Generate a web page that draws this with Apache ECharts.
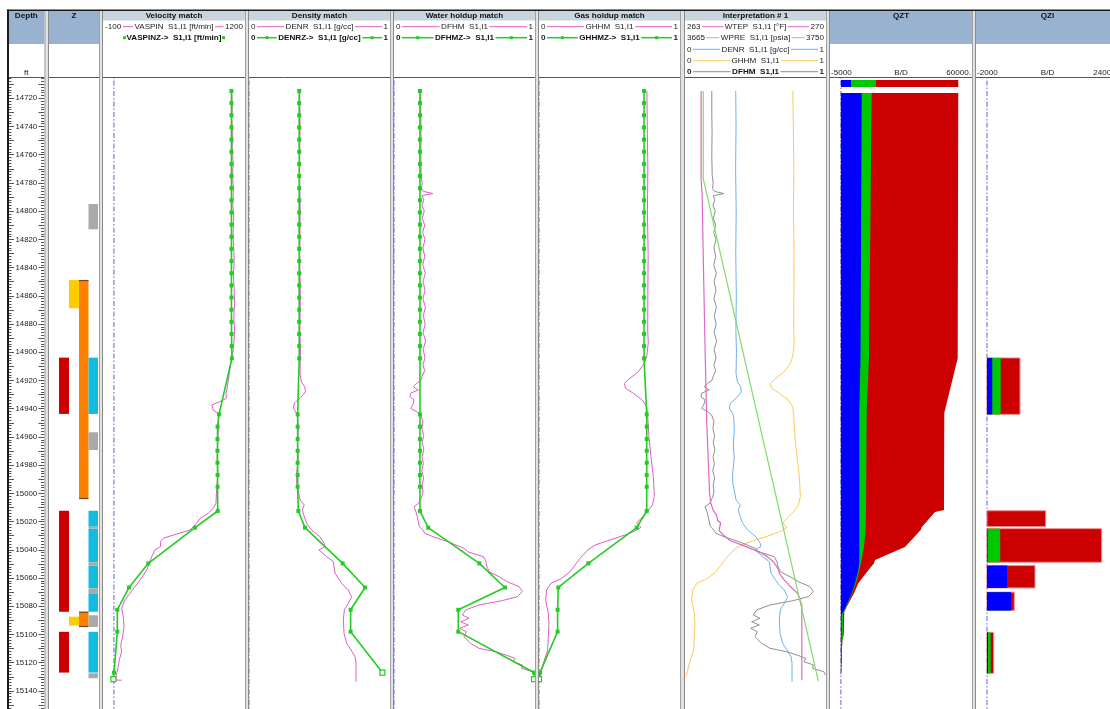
<!DOCTYPE html>
<html>
<head>
<meta charset="utf-8">
<title>PLT match</title>
<script src="https://cdn.jsdelivr.net/npm/echarts/dist/echarts.min.js"></script>
<style>
html,body{margin:0;padding:0;background:#ffffff;overflow:hidden;}
#chart{width:1110px;height:709px;}
</style>
</head>
<body>
<div id="chart"></div>
<script>
// ================= DATA =================
const depthRange = [14700, 15160];

// model stations (shared by the green "Z" curves)
const stationDepth = [14714.8,14723.4,14732.0,14740.6,14749.3,14757.9,14766.5,14775.1,14783.7,14792.3,14800.9,14809.5,14818.1,14826.7,14835.4,14844.0,14852.6,14861.2,14869.8,14878.4,14887.0,14895.6,14904.3,
  14944.0,14952.7,14961.5,14969.8,14978.3,14987.0,14995.3,
  15012.5,15024.3,15049.6,15066.7,15082.5,15098.0,15127.0,15131.7];
const VASPINZ = [1076,1076,1076,1076,1076,1076,1076,1076,1076,1076,1076,1076,1076,1076,1076,1076,1076,1076,1076,1076,1077,1078,1080,
  962,949,948,948,948,949,949, 950,742,315,138,31,31,1,-5];
const DENRZ = [0.356,0.356,0.356,0.356,0.356,0.356,0.356,0.356,0.356,0.356,0.356,0.356,0.356,0.356,0.356,0.356,0.356,0.356,0.356,0.356,0.356,0.356,0.356,
  0.345,0.345,0.345,0.345,0.345,0.345,0.345, 0.350,0.397,0.664,0.823,0.721,0.721,0.946,null];
const DFHMZ = [0.184,0.184,0.184,0.184,0.184,0.184,0.184,0.184,0.184,0.184,0.184,0.184,0.184,0.184,0.184,0.184,0.184,0.184,0.184,0.184,0.184,0.184,0.184,
  0.184,0.184,0.184,0.184,0.184,0.184,0.184, 0.184,0.243,0.605,0.787,0.456,0.456,0.993,0.993];
const GHHMZ = [0.745,0.745,0.745,0.745,0.745,0.745,0.745,0.745,0.745,0.745,0.745,0.745,0.745,0.745,0.745,0.745,0.745,0.745,0.745,0.745,0.745,0.745,0.745,
  0.764,0.764,0.764,0.764,0.764,0.764,0.764, 0.764,0.693,0.350,0.137,0.132,0.132,0.007,0.000];

// measured log curves: [depth, value]
const VASPIN = [[14714.8,1078],[14725,1084],[14735,1079],[14745,1088],[14755,1083],[14765,1091],[14775,1086],[14785,1094],[14795,1088],[14805,1097],[14815,1090],[14825,1096],[14835,1101],[14845,1094],[14855,1100],[14865,1105],[14875,1098],[14885,1104],[14895,1097],[14902,1086],[14908,1069],[14914,1058],[14920,1047],[14926,1035],[14929,1026],[14932.6,1030],[14935,971],[14937.4,895],[14941,910],[14943,947],[14945.7,959],[14955,955],[14965,950],[14975,945],[14985,952],[14997.6,940],[15004,936],[15007,934],[15010.6,910],[15014,864],[15017.7,788],[15021,758],[15026,696],[15028.8,575],[15031.8,452],[15034,428],[15037.8,426],[15040,376],[15044.9,346],[15049.6,324],[15054.3,300],[15060,254],[15066,193],[15070.8,147],[15075.5,101],[15081.4,71],[15087.4,86],[15094.5,92],[15101.6,80],[15107.5,62],[15112.2,71],[15118,49],[15122.8,40],[15127.5,25],[15132.3,16],[15132.4,71]];

const DENR = [[14714.8,0.36],[14740,0.362],[14770,0.359],[14800,0.363],[14830,0.36],[14860,0.364],[14884,0.361],[14900,0.365],[14915,0.362],[14921,0.372],[14924.4,0.395],[14928,0.4],[14930,0.385],[14932.6,0.362],[14936,0.322],[14939.7,0.314],[14943.2,0.338],[14945.6,0.345],[14955,0.35],[14965,0.343],[14975,0.349],[14985.8,0.338],[14992.9,0.338],[14997.6,0.349],[15004.7,0.362],[15008.2,0.392],[15011.8,0.378],[15016.5,0.392],[15021.2,0.409],[15026,0.444],[15030.7,0.503],[15035.4,0.534],[15037.8,0.538],[15040.1,0.496],[15044.9,0.551],[15048.4,0.598],[15056.6,0.61],[15063.7,0.657],[15068.5,0.704],[15073.2,0.728],[15077.9,0.704],[15082.6,0.676],[15089.7,0.669],[15099.2,0.674],[15106.3,0.693],[15111,0.724],[15115.7,0.752],[15120.4,0.759],[15133.5,0.759]];

const DFHM = [[14714.8,0.19],[14730,0.19],[14745,0.192],[14760,0.19],[14775,0.193],[14780,0.2],[14784,0.195],[14786,0.21],[14787.5,0.276],[14789,0.2],[14792,0.212],[14796,0.198],[14800,0.215],[14805,0.2],[14810,0.218],[14815,0.203],[14820,0.22],[14826,0.205],[14832,0.218],[14838,0.204],[14844,0.222],[14850,0.206],[14856,0.22],[14862,0.205],[14868,0.223],[14874,0.208],[14880,0.221],[14886,0.206],[14892,0.224],[14898,0.207],[14904,0.22],[14909,0.205],[14913,0.218],[14917,0.2],[14920,0.19],[14922,0.16],[14924.4,0.137],[14926.7,0.172],[14929,0.118],[14931.5,0.113],[14933.8,0.142],[14937.4,0.133],[14939.7,0.118],[14942.1,0.161],[14944.5,0.189],[14949,0.205],[14954,0.198],[14959,0.21],[14964,0.2],[14969,0.212],[14974,0.199],[14979,0.208],[14984,0.197],[14989,0.21],[14994,0.2],[14999,0.206],[15003,0.195],[15007,0.175],[15009.4,0.142],[15013,0.156],[15016.5,0.165],[15020,0.172],[15023.6,0.18],[15026,0.206],[15028.3,0.218],[15030.7,0.277],[15034.3,0.383],[15036.6,0.44],[15039,0.5],[15041.3,0.52],[15044.9,0.634],[15048.4,0.652],[15052,0.66],[15055.5,0.674],[15059,0.745],[15062.6,0.804],[15066.1,0.887],[15069.6,0.91],[15073.2,0.875],[15076,0.768],[15079.1,0.603],[15082.6,0.508],[15086.2,0.485],[15088.5,0.532],[15091,0.473],[15093.3,0.527],[15095.6,0.466],[15098,0.513],[15101.6,0.496],[15106.3,0.544],[15109.8,0.603],[15112.2,0.721],[15114.5,0.792],[15116.9,0.858],[15119.3,0.844],[15121.6,0.91],[15124,0.905],[15126.4,0.985],[15128.7,0.996]];

const GHHM = [[14714.8,0.765],[14740,0.768],[14770,0.772],[14800,0.769],[14830,0.774],[14860,0.772],[14884.2,0.771],[14893.6,0.775],[14903,0.764],[14907.8,0.747],[14913.8,0.704],[14918.4,0.645],[14922,0.605],[14925.5,0.614],[14929.1,0.669],[14933.8,0.733],[14938.6,0.764],[14945.7,0.771],[14959.8,0.78],[14974,0.794],[14988.2,0.811],[15002.3,0.818],[15008.2,0.804],[15013,0.771],[15017.7,0.723],[15021.2,0.693],[15024,0.723],[15026.7,0.681],[15029.5,0.61],[15033,0.503],[15036.6,0.397],[15040.1,0.345],[15042.5,0.326],[15046,0.29],[15050.8,0.255],[15055.5,0.22],[15060.2,0.161],[15063.7,0.085],[15068.5,0.054],[15075.6,0.047],[15085,0.066],[15092.1,0.071],[15101.6,0.066],[15111,0.061],[15120.4,0.031],[15129.9,0.007]];

const WTEP = [[14714.8,263.8],[14777,263.8],[14788,263.85],[14850,263.93],[14900,264.0],[14950,264.08],[15000,264.22],[15007,264.28],[15012,264.4],[15015.6,264.57],[15019,264.62],[15021,264.77],[15024,264.72],[15026.6,264.7],[15030,264.95],[15033.4,265.23],[15037,265.9],[15041.6,266.7],[15045,267.1],[15048.6,267.4],[15053,267.6],[15057,267.7],[15061,267.9],[15065.6,268.2],[15071,268.6],[15079.4,268.8],[15132.5,268.8]];
const WPRE = [[14714.8,3676],[14777,3676],[15133,3745.4]];

// flow profile QZT (B/D)
const qztDepth = [14716.2,14904.3,14943,15011.8,15013.2,15024,15026,15038,15047.3,15049.6,15054.4,15063.7,15070.8,15080.3,15084,15085.5,15100,15104,15114,15127,15129];
const qztWater = [9510,8960,8410,8410,8410,8410,8410,8410,8410,8410,7950,6440,4930,2190,1090,300,300,200,300,100,0];
const qztOil   = [4580,3890,3390,3070,3070,2930,2930,2150,1010,780,460,460,280,270,320,700,600,500,0,0,0];
const qztGas   = [39630,40600,35510,35700,31580,25630,25170,18770,6180,5950,4120,1050,770,180,130,500,400,0,0,0,0];
const qztSurfaceDepth = [14707.0, 14712.0];
const qztSurfaceRates = [4610, 11440, 37670]; // water, oil, gas

// inflow QZI (B/D)
const qziTop    = [14904.0,15012.3,15025.0,15051.2,15070.0,15098.5];
const qziBottom = [14944.0,15023.5,15048.8,15067.0,15083.0,15127.5];
const qziWater  = [960,0,100,3690,4360,180];
const qziOil    = [1530,0,2300,0,0,490];
const qziGas    = [3510,10670,18450,5040,600,545];

// Z track zones [top, bottom]
const zonePerf   = [[14903.8,14943.7],[15012.3,15083.9],[15098.1,15127.0]];
const zoneYellow = [[14848.8,14868.8],[15087.4,15093.7]];
const zoneOrange = [[14848.8,15004.0],[15083.9,15094.7]];
const zoneCyan   = [[14903.8,14943.7],[15012.3,15023.6],[15025.0,15048.8],[15051.2,15067.3],[15070.8,15083.9],[15098.1,15127.0]];
const zoneGray   = [[14794.9,14812.8],[14956.7,14969.3],[15023.6,15025.0],[15048.8,15051.2],[15067.3,15070.8],[15086.4,15094.7],[15127.5,15131.0]];

// ================= LAYOUT / STYLE =================
const FONT = '"Liberation Sans", Arial, sans-serif';
const FS = 8.1;
const PINK = '#e05cc6', GREEN = '#22cc22';
const C_WTEP = '#e066c8', C_WPRE = '#7fdc6a', C_DENR = '#6fb0f2', C_GHHM = '#ffc75a', C_DFHM = '#8f8f8f';
const GRID_TOP = 70.08, GRID_H = 649.06;

const tracks = [
  {left:8, right:44.5},
  {left:49, right:99},
  {left:103, right:245, title:'Velocity match'},
  {left:249, right:390, title:'Density match'},
  {left:394, right:535, title:'Water holdup match'},
  {left:539, right:680, title:'Gas holdup match'},
  {left:685, right:826, title:'Interpretation # 1'},
  {left:830, right:972, title:'QZT'},
  {left:976, right:1119, title:'QZI'}
];
const xScales = [[0,1],[0,5],[-100,1200],[0,1],[0,1],[0,1],[0,1],[-5000,60000],[-2000,24000]];

const chart = echarts.init(document.getElementById('chart'), null, {renderer:'canvas', width:1110, height:709});

const grids = tracks.map(t => ({left:t.left, top:GRID_TOP, width:t.right - t.left, height:GRID_H, show:false, containLabel:false, outerBoundsMode:'none'}));
const xAxes = tracks.map((t,i) => ({gridIndex:i, type:'value', min:xScales[i][0], max:xScales[i][1], show:false}));
xAxes.push({gridIndex:6, type:'value', min:263, max:270, show:false});   // 9: WTEP
xAxes.push({gridIndex:6, type:'value', min:3665, max:3750, show:false}); // 10: WPRE

const tickCommon = {
  axisLine:{show:false}, splitLine:{show:false},
  axisTick:{show:true, inside:true, length:6, lineStyle:{color:'#555', width:1}},
  minorTick:{show:true, splitNumber:5, length:3.5, lineStyle:{color:'#555', width:1}}
};
const yAxes = tracks.map((t,i) => {
  if (i === 0) {
    return Object.assign({gridIndex:0, type:'value', inverse:true, min:depthRange[0], max:depthRange[1], interval:10, position:'left',
      axisLabel:{show:true, inside:true, margin:18.3, align:'center', verticalAlign:'middle', fontSize:7.8, fontFamily:FONT, color:'#222',
        hideOverlap:false, formatter: v => (Math.round(v) % 20 === 0 ? String(Math.round(v)) : '')}}, tickCommon);
  }
  return {gridIndex:i, type:'value', inverse:true, min:depthRange[0], max:depthRange[1], show:false};
});
yAxes.push(Object.assign({gridIndex:0, type:'value', inverse:true, min:depthRange[0], max:depthRange[1], interval:10, position:'right',
  axisLabel:{show:false}}, tickCommon)); // 9: right ruler

// ---------- series ----------
const series = [];
const zeroStyle = {color:'#5c5ce6', width:1, type:[5,2,1.5,2]};
function zeroLine(ti){
  series.push({type:'line', xAxisIndex:ti, yAxisIndex:ti, data:[[0,depthRange[0]],[0,depthRange[1]]], symbol:'none', lineStyle:zeroStyle, z:1, silent:true, animation:false});
}
function logLine(ti, pairs, color, w, xi){
  series.push({type:'line', xAxisIndex:(xi==null?ti:xi), yAxisIndex:ti, data:pairs.map(p => [p[1], p[0]]), symbol:'none',
    lineStyle:{color:color, width:w}, z:3, silent:true, animation:false});
}
function modelLine(ti, values){
  const pts = [];
  stationDepth.forEach((d,i) => { if (values[i] != null) pts.push([values[i], d]); });
  const data = pts.map((p,i) => i === pts.length - 1 ? {value:p, symbolSize:5, itemStyle:{color:'#ffffff', borderColor:GREEN, borderWidth:1.2}} : p);
  series.push({type:'line', xAxisIndex:ti, yAxisIndex:ti, data:data, symbol:'rect', symbolSize:4, showSymbol:true, showAllSymbol:true,
    itemStyle:{color:GREEN}, lineStyle:{color:GREEN, width:1.6}, z:4, silent:true, animation:false});
}

// Z track zones
const zoneKinds = [
  {zones:zonePerf, col:0, color:'#cc0000'},
  {zones:zoneYellow, col:1, color:'#ffcc00'},
  {zones:zoneOrange, col:2, color:'#ff8000', edge:'#6a4a30'},
  {zones:zoneCyan, col:3, color:'#12bce0'},
  {zones:zoneGray, col:3, color:'#a9a9a9'}
];
const colX = [[1,2],[2,3],[3,3.95],[3.95,4.9]];
const zData = [];
zoneKinds.forEach((k,ki) => k.zones.forEach(z => zData.push([ki, z[0], z[1]])));
series.push({type:'custom', xAxisIndex:1, yAxisIndex:1, data:zData, silent:true, animation:false, z:2,
  renderItem:(params, api) => {
    const k = zoneKinds[api.value(0)];
    const c = colX[k.col];
    const p1 = api.coord([c[0], api.value(1)]);
    const p2 = api.coord([c[1], api.value(2)]);
    const children = [{type:'rect', shape:{x:p1[0], y:p1[1], width:p2[0]-p1[0], height:p2[1]-p1[1]}, style:{fill:k.color}}];
    if (k.edge) {
      children.push({type:'line', shape:{x1:p1[0], y1:p1[1]+0.5, x2:p2[0], y2:p1[1]+0.5}, style:{stroke:k.edge, lineWidth:1.2}});
      children.push({type:'line', shape:{x1:p1[0], y1:p2[1]-0.5, x2:p2[0], y2:p2[1]-0.5}, style:{stroke:k.edge, lineWidth:1.2}});
    }
    return {type:'group', children:children};
  }});

// Velocity
zeroLine(2); logLine(2, VASPIN, PINK, 1); modelLine(2, VASPINZ);
// Density
zeroLine(3); logLine(3, DENR, PINK, 1); modelLine(3, DENRZ);
// Water holdup
zeroLine(4); logLine(4, DFHM, PINK, 1); modelLine(4, DFHMZ);
// Gas holdup
zeroLine(5); logLine(5, GHHM, PINK, 1); modelLine(5, GHHMZ);
// Interpretation
logLine(6, GHHM, C_GHHM, 1);
logLine(6, DENR, C_DENR, 1);
logLine(6, DFHM, C_DFHM, 1);
logLine(6, WTEP, C_WTEP, 1.2, 9);
logLine(6, WPRE, C_WPRE, 1.2, 10);

// QZT flow profile (cumulative fills, drawn total -> water)
zeroLine(7);
const QZT_COLORS = ['#cc0000', '#00c800', '#0000ff'];
series.push({type:'custom', xAxisIndex:7, yAxisIndex:7, data:[[0,14800],[1,14800],[2,14800]], silent:true, animation:false, z:2,
  renderItem:(params, api) => {
    const layer = params.dataIndex;
    const right = qztDepth.map((d,i) => layer === 0 ? qztWater[i]+qztOil[i]+qztGas[i] : layer === 1 ? qztWater[i]+qztOil[i] : qztWater[i]);
    const pts = [];
    qztDepth.forEach((d,i) => pts.push(api.coord([right[i], d])));
    for (let i = qztDepth.length - 1; i >= 0; i--) pts.push(api.coord([0, qztDepth[i]]));
    return {type:'polygon', shape:{points:pts}, style:{fill:QZT_COLORS[layer]}};
  }});
series.push({type:'custom', xAxisIndex:7, yAxisIndex:7, data:[[0,qztSurfaceDepth[0]]], silent:true, animation:false, z:2,
  renderItem:(params, api) => {
    const w = qztSurfaceRates[0], o = qztSurfaceRates[1], g = qztSurfaceRates[2];
    const bounds = [[0,w,'#0000ff'],[w,w+o,'#00c800'],[w+o,w+o+g,'#cc0000']];
    return {type:'group', children:bounds.map(b => {
      const p1 = api.coord([b[0], qztSurfaceDepth[0]]), p2 = api.coord([b[1], qztSurfaceDepth[1]]);
      return {type:'rect', shape:{x:p1[0], y:p1[1], width:p2[0]-p1[0], height:p2[1]-p1[1]}, style:{fill:b[2]}};
    })};
  }});

// QZI inflow bars
zeroLine(8);
series.push({type:'custom', xAxisIndex:8, yAxisIndex:8, data:qziTop.map((t,i) => [i, t]), silent:true, animation:false, z:2,
  renderItem:(params, api) => {
    const i = api.value(0);
    const w = qziWater[i], o = qziOil[i], g = qziGas[i];
    const layers = [[w+o+g,'#cc0000','#f08c8c'],[w+o,'#00c800',null],[w,'#0000ff',null]];
    const children = [];
    layers.forEach(L => {
      if (L[0] <= 0) return;
      const p1 = api.coord([0, qziTop[i]]), p2 = api.coord([L[0], qziBottom[i]]);
      children.push({type:'rect', shape:{x:p1[0], y:p1[1], width:p2[0]-p1[0], height:p2[1]-p1[1]},
        style:{fill:L[1], stroke:L[2] || null, lineWidth:L[2] ? 1 : 0}});
    });
    return {type:'group', children:children};
  }});

// ---------- graphics (frame, headers, legends) ----------
const G = [];
const mctx = document.createElement('canvas').getContext('2d');
function fontStr(size, bold){ return (bold ? 'bold ' : '') + size + 'px ' + FONT; }
function tw(str, size, bold){ mctx.font = fontStr(size, bold); return mctx.measureText(str).width; }
function gRect(x, y, w, h, fill, z){ G.push({type:'rect', shape:{x:x, y:y, width:w, height:h}, style:{fill:fill}, z:z || 50, silent:true}); }
function gLine(x1, y1, x2, y2, stroke, lw, z){ G.push({type:'line', shape:{x1:x1, y1:y1, x2:x2, y2:y2}, style:{stroke:stroke, lineWidth:lw || 1}, z:z || 60, silent:true}); }
function gText(x, y, str, o){
  o = o || {};
  const a = o.align || 'center';
  G.push({type:'text', x:x, y:y, z:70, silent:true,
    style:{text:str, fill:o.color || '#111', font:fontStr(o.size || FS, o.bold), textAlign:a, align:a, textVerticalAlign:'middle', verticalAlign:'middle'}});
}
function legendRow(t, y, leftTxt, name, rightTxt, color, o){
  o = o || {};
  const x0 = t.left, x1 = t.right, cx = (x0 + x1) / 2;
  const wName = tw(name, FS, o.bold);
  const nameL = cx - wName / 2, nameR = cx + wName / 2;
  let a0 = x0 + 2, b1 = x1 - 2;
  if (leftTxt) { gText(x0 + 2, y, leftTxt, {align:'left', bold:o.numBold, color:'#222'}); a0 = x0 + 2 + tw(leftTxt, FS, o.numBold) + 1.5; }
  if (rightTxt) { gText(x1 - 2, y, rightTxt, {align:'right', bold:o.numBold, color:'#222'}); b1 = x1 - 2 - tw(rightTxt, FS, o.numBold) - 1.5; }
  const a1 = nameL - 1.5, b0 = nameR + 1.5;
  const lw = o.lw || 1;
  if (!o.noLines) {
    if (a1 - a0 > 1) gLine(a0, y, a1, y, color, lw);
    if (b1 - b0 > 1) gLine(b0, y, b1, y, color, lw);
  }
  if (o.marker) {
    const m1 = (!o.noLines && a1 - a0 > 6) ? (a0 + a1) / 2 : a1 - 0.5;
    const m2 = (!o.noLines && b1 - b0 > 6) ? (b0 + b1) / 2 : b0 + 0.5;
    gRect(m1 - 1.5, y - 1.5, 3, 3, color, 65);
    gRect(m2 - 1.5, y - 1.5, 3, 3, color, 65);
  }
  gText(cx, y, name, {bold:o.bold, color:o.textColor || '#222'});
}

// white cover of the header band
gRect(8, 11, 1102, 66.5, '#ffffff', 40);
// header boxes and titles
const HBLUE = '#98b2cf', HBAR = '#c9d4df';
tracks.forEach((t,i) => {
  const w = t.right - t.left;
  if (i === 0 || i === 1 || i === 7 || i === 8) {
    gRect(t.left, 11, w, 33, HBLUE, 45);
  } else {
    gRect(t.left, 11, w, 9.6, HBAR, 45);
  }
});
gText(26.3, 16.2, 'Depth', {bold:true});
gText(74, 16.2, 'Z', {bold:true});
tracks.forEach((t,i) => { if (t.title) gText((t.left + t.right) / 2, 16.0, t.title, {bold:true}); });
gText(26.3, 72.5, 'ft', {color:'#222'});
// QZT / QZI scale rows
gText(831, 73, '-5000', {align:'left', color:'#222'});
gText(901, 73, 'B/D', {color:'#222'});
gText(971, 73, '60000.', {align:'right', color:'#222'});
gText(977, 73, '-2000', {align:'left', color:'#222'});
gText(1047.5, 73, 'B/D', {color:'#222'});
gText(1118, 73, '24000.', {align:'right', color:'#222'});

// legends
legendRow(tracks[2], 26.7, '-100', 'VASPIN  S1,I1 [ft/min]', '1200', PINK, {});
legendRow(tracks[2], 37.7, '', 'VASPINZ->  S1,I1 [ft/min]', '', GREEN, {bold:true, marker:true, noLines:true, lw:1.5, textColor:'#111'});
legendRow(tracks[3], 26.7, '0', 'DENR  S1,I1 [g/cc]', '1', PINK, {});
legendRow(tracks[3], 37.7, '0', 'DENRZ->  S1,I1 [g/cc]', '1', GREEN, {bold:true, numBold:true, marker:true, lw:1.5, textColor:'#111'});
legendRow(tracks[4], 26.7, '0', 'DFHM  S1,I1', '1', PINK, {});
legendRow(tracks[4], 37.7, '0', 'DFHMZ->  S1,I1', '1', GREEN, {bold:true, numBold:true, marker:true, lw:1.5, textColor:'#111'});
legendRow(tracks[5], 26.7, '0', 'GHHM  S1,I1', '1', PINK, {});
legendRow(tracks[5], 37.7, '0', 'GHHMZ->  S1,I1', '1', GREEN, {bold:true, numBold:true, marker:true, lw:1.5, textColor:'#111'});
legendRow(tracks[6], 26.7, '263', 'WTEP  S1,I1 [°F]', '270', C_WTEP, {});
legendRow(tracks[6], 37.7, '3665', 'WPRE  S1,I1 [psia]', '3750', C_WPRE, {});
legendRow(tracks[6], 49.3, '0', 'DENR  S1,I1 [g/cc]', '1', C_DENR, {});
legendRow(tracks[6], 60.7, '0', 'GHHM  S1,I1', '1', C_GHHM, {});
legendRow(tracks[6], 71.7, '0', 'DFHM  S1,I1', '1', C_DFHM, {bold:true, numBold:true, textColor:'#111'});

// frame lines
gLine(8, 77.5, 1110, 77.5, '#555', 1, 62);
gRect(7, 9.5, 1103, 1.6, '#1a1a1a', 80);
gRect(7, 9.5, 2, 700, '#1a1a1a', 80);
for (let i = 0; i < tracks.length - 1; i++) {
  const x = tracks[i].right, w = tracks[i + 1].left - tracks[i].right;
  gRect(x, 11, w, 698, '#e2e2e2', 75);
  gLine(x + 0.5, 11, x + 0.5, 709, '#a0a0a0', 1, 76);
  gLine(x + w - 0.5, 11, x + w - 0.5, 709, '#8a8a8a', 1, 76);
}

chart.setOption({
  animation:false,
  backgroundColor:'#ffffff',
  grid:grids,
  xAxis:xAxes,
  yAxis:yAxes,
  series:series,
  graphic:G
});
</script>
</body>
</html>
